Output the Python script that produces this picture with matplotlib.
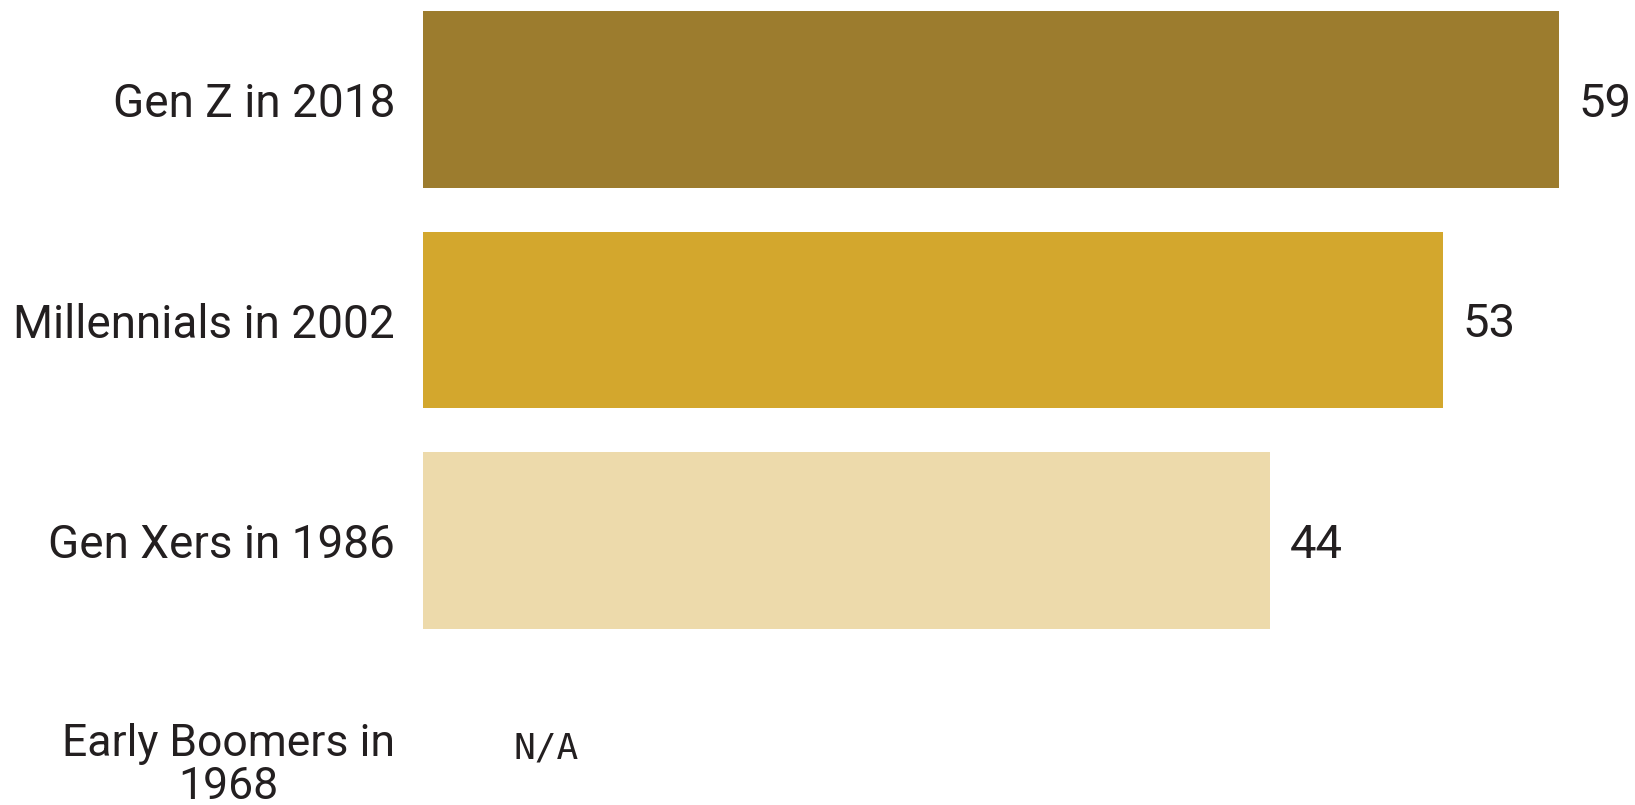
import matplotlib.pyplot as plt
from matplotlib import font_manager

categories = ["Gen Z in 2018", "Millennials in 2002", "Gen Xers in 1986", "Early Boomers in\n1968"]
values = [59, 53, 44, None]
bar_colors = ["#9C7C2E", "#D3A72D", "#EDDAAB", "#FFFFFF"]
missing_label = "N/A"

names = {f.name for f in font_manager.fontManager.ttflist}
main_font = "Roboto" if "Roboto" in names else "DejaVu Sans"

fig = plt.figure(figsize=(16.35, 8.05), dpi=100)
ax = fig.add_axes([423 / 1635, 0, 1 - 423 / 1635, 1])

ypos = list(range(len(categories)))
for y, v, c in zip(ypos, values, bar_colors):
    if v is None:
        ax.annotate(missing_label, xy=(0, y), xytext=(65, 9), textcoords="offset points",
                    ha="left", va="center", fontsize=26, color="#231f20",
                    family=["DejaVu Sans Mono"])
        continue
    ax.barh(y, v, height=0.8, color=c)
    ax.annotate(str(v), xy=(v, y), xytext=(14, -3), textcoords="offset points",
                ha="left", va="center", fontsize=34, color="#231f20", family=main_font)

ax.set_xlim(0, 1212 / 19.25)
ax.set_ylim(3.20, -0.452)
ax.set_yticks(ypos)
ax.set_yticklabels(categories, fontsize=33, color="#231f20", family=main_font)
ax.tick_params(axis="y", length=0, pad=20)
ax.set_xticks([])
labels = ax.get_yticklabels()
labels[-1].set_multialignment("center")
labels[-1].set_linespacing(1.02)
labels[-1].set_fontsize(32)
for s in ax.spines.values():
    s.set_visible(False)

fig.savefig("out.png", dpi=100)
